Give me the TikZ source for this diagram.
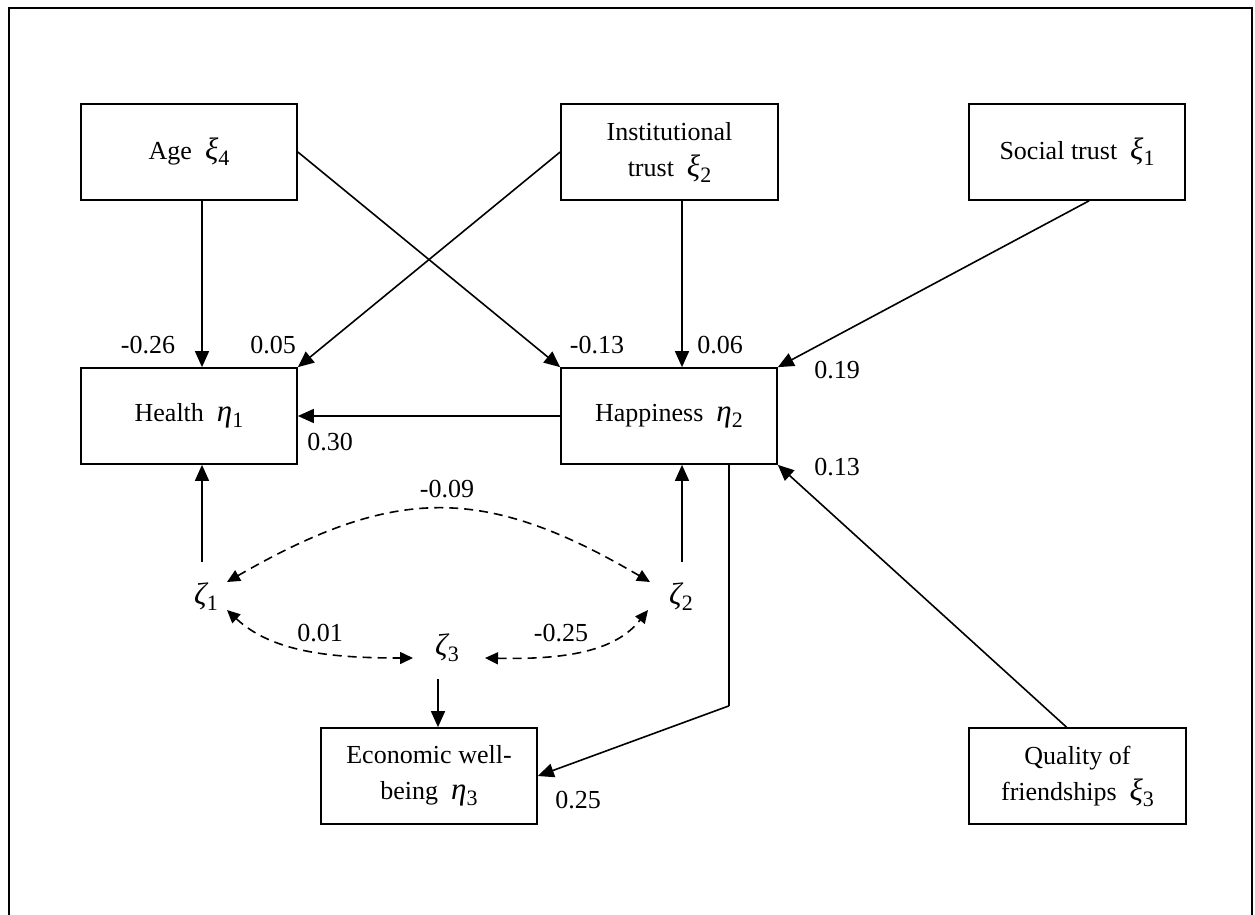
\documentclass[tikz,border=0pt]{standalone}
\usepackage{fontspec}
\setmainfont{Liberation Serif}
\usetikzlibrary{arrows.meta,calc}
\newcommand{\gsub}[2]{{\fontsize{31}{34}\selectfont\itshape #1}\raisebox{-6pt}{\fontsize{22}{24}\selectfont #2}}
\begin{document}
\begin{tikzpicture}[x=1pt,y=-1pt,
  box/.style={draw,line width=1.7pt,minimum width=216pt,minimum height=96pt,align=center,inner sep=0pt},
  arr/.style={line width=1.6pt,-{Triangle[length=16pt,width=14pt]}},
  con/.style={line width=1.6pt},
  dar/.style={line width=1.6pt,dash pattern=on 9pt off 6pt,{Triangle[length=13pt,width=12pt]}-{Triangle[length=13pt,width=12pt]}},
  lbl/.style={inner sep=0pt},
  zeta/.style={inner sep=0pt},
  every node/.style={font=\fontsize{26}{36}\selectfont}]
\useasboundingbox (0,0) rectangle (1255,915);
\draw[line width=2.6pt] (9,920) -- (9,8) -- (1252,8) -- (1252,920);

\node[box] (age) at (189,152) {Age \ \gsub{ξ}{4}};
\node[box,minimum width=217pt] (inst) at (669.5,152) {Institutional\\trust \ \gsub{ξ}{2}};
\node[box] (soc) at (1077,152) {Social trust \ \gsub{ξ}{1}};
\node[box] (health) at (189,416) {Health \ \gsub{η}{1}};
\node[box] (happy) at (669,416) {Happiness \ \gsub{η}{2}};
\node[box] (econ) at (429,776) {Economic well-\\being \ \gsub{η}{3}};
\node[box,minimum width=217pt] (qual) at (1077.5,776) {Quality of\\friendships \ \gsub{ξ}{3}};

\node[zeta] (z1) at (206,597) {\gsub{ζ}{1}};
\node[zeta] (z2) at (681,597) {\gsub{ζ}{2}};
\node[zeta] (z3) at (447,648) {\gsub{ζ}{3}};

% structural paths
\draw[arr] ($(age.south)+(13,0)$) -- ($(health.north)+(13,0)$);
\draw[arr] (inst.west) -- (health.north east);
\draw[arr] (age.east) -- (happy.north west);
\draw[arr] ($(inst.south)+(12.5,0)$) -- ($(happy.north)+(13,0)$);
\draw[arr] ($(soc.south)+(12,0)$) -- (happy.north east);
\draw[arr] (happy.west) -- (health.east);
\draw[arr] ($(qual.north)+(-11,0)$) -- (happy.south east);
\draw[arr] ($(health.south)+(13,97)$) -- ($(health.south)+(13,0)$);
\draw[arr] ($(happy.south)+(13,97)$) -- ($(happy.south)+(13,0)$);
\draw[arr] ($(econ.north)+(9,-48)$) -- ($(econ.north)+(9,0)$);
\coordinate (bend) at ($(happy.south)+(60,241)$);
\draw[con] ($(happy.south)+(60,0)$) -- (bend);
\draw[arr] (bend) -- (econ.east);

% covariances
\draw[dar] ($(z1)+(21,-15)$) .. controls (395,485) and (485,485) .. ($(z2)+(-31,-15)$);
\draw[dar] ($(z1)+(21,13)$) .. controls (272,652) and (330,658) .. ($(z3)+(-34,10)$);
\draw[dar] ($(z3)+(38,10)$) .. controls (575,660) and (618,648) .. ($(z2)+(-33,13)$);

% labels
\node[lbl] (l1) at (148,345) {-0.26};
\node[lbl] (l2) at (273,345) {0.05};
\node[lbl] (l3) at (597,345) {-0.13};
\node[lbl] (l4) at (720,345) {0.06};
\node[lbl] (l5) at (837,370) {0.19};
\node[lbl] (l6) at (330,442) {0.30};
\node[lbl] (l7) at (837,467) {0.13};
\node[lbl] (l8) at (447,489) {-0.09};
\node[lbl] (l9) at (320,633) {0.01};
\node[lbl] (l10) at (561,633) {-0.25};
\node[lbl] (l11) at (578,800) {0.25};
\end{tikzpicture}
\end{document}
